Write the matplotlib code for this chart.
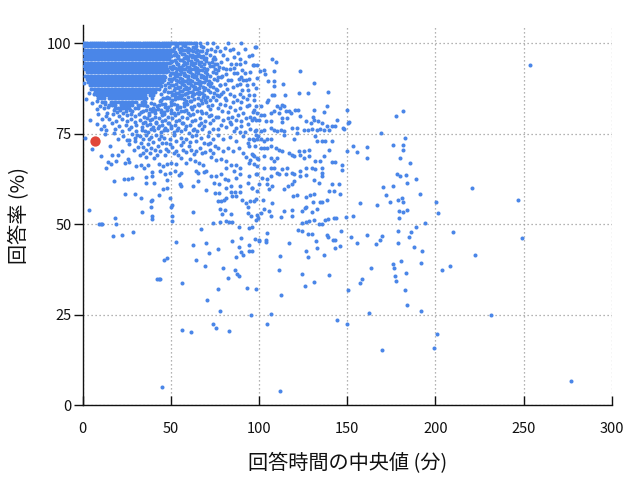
import matplotlib
matplotlib.use("Agg")
import matplotlib.pyplot as plt

plt.rcParams['font.family'] = ['Noto Sans CJK JP', 'DejaVu Sans']

# points sitting on the 100% line
top_row_x = [0.4, 1.6, 2.8, 4.0, 5.2, 6.4, 7.6, 8.8, 10.0, 11.2, 12.4, 13.6, 14.8, 16.0,
             17.2, 18.4, 19.6, 20.8, 22.0, 23.2, 24.4, 25.6, 26.8, 28.0, 29.2, 30.4, 31.6,
             32.8, 34.0, 35.2, 36.4, 37.6, 38.8, 40.0, 41.2, 42.4, 43.6, 44.8, 46.0, 47.2,
             48.4, 49.6, 50.8, 52.0, 53.2, 54.4, 55.6, 56.8, 58.0, 59.2, 60.4, 61.6, 63.0,
             64.5, 66.8, 70.6, 74.2, 82.4, 90.0]

# the solid blob in the top-left corner, read row by row
core_y = [99.1, 98.2, 97.3, 96.4, 95.5, 94.6, 93.7, 92.8, 91.9, 91.0, 90.1, 89.2, 88.3,
          87.4, 86.5, 85.6, 84.7, 83.8, 82.9, 82.0, 81.1]
core_x = [
    [0.8, 2.4, 4.0, 5.6, 7.2, 8.8, 10.4, 12.0, 13.6, 15.2, 16.8, 18.4, 20.0, 21.6, 23.2, 24.8,
     26.4, 28.0, 29.6, 31.2, 32.8, 34.4, 36.0, 37.6, 39.2, 40.8, 42.4, 44.0, 45.6, 47.2, 48.8],
    [1.6, 3.2, 4.8, 6.4, 8.0, 9.6, 11.2, 12.8, 14.4, 16.0, 17.6, 19.2, 20.8, 22.4, 24.0, 25.6,
     27.2, 28.8, 30.4, 32.0, 33.6, 35.2, 36.8, 38.4, 40.0, 41.6, 43.2, 44.8, 46.4, 48.0, 49.6],
    [0.8, 2.4, 4.0, 5.6, 7.2, 8.8, 10.4, 12.0, 13.6, 15.2, 16.8, 18.4, 20.0, 21.6, 23.2, 24.8,
     26.4, 28.0, 29.6, 31.2, 32.8, 34.4, 36.0, 37.6, 39.2, 40.8, 42.4, 44.0, 45.6, 47.2, 48.8],
    [1.6, 3.2, 4.8, 6.4, 8.0, 9.6, 11.2, 12.8, 14.4, 16.0, 17.6, 19.2, 20.8, 22.4, 24.0, 25.6,
     27.2, 28.8, 30.4, 32.0, 33.6, 35.2, 36.8, 38.4, 40.0, 41.6, 43.2, 44.8, 46.4, 48.0, 49.6],
    [0.8, 2.4, 4.0, 5.6, 7.2, 8.8, 10.4, 12.0, 13.6, 15.2, 16.8, 18.4, 20.0, 21.6, 23.2, 24.8,
     26.4, 28.0, 29.6, 31.2, 32.8, 34.4, 36.0, 37.6, 39.2, 40.8, 42.4, 44.0, 45.6, 47.2, 48.8],
    [1.6, 3.2, 4.8, 6.4, 8.0, 9.6, 11.2, 12.8, 14.4, 16.0, 17.6, 19.2, 20.8, 22.4, 24.0, 25.6,
     27.2, 28.8, 30.4, 32.0, 33.6, 35.2, 36.8, 38.4, 40.0, 41.6, 43.2, 44.8, 46.4, 48.0],
    [0.8, 2.4, 4.0, 5.6, 7.2, 8.8, 10.4, 12.0, 13.6, 15.2, 16.8, 18.4, 20.0, 21.6, 23.2, 24.8,
     26.4, 28.0, 29.6, 31.2, 32.8, 34.4, 36.0, 37.6, 39.2, 40.8, 42.4, 44.0, 45.6, 47.2],
    [1.6, 3.2, 4.8, 6.4, 8.0, 9.6, 11.2, 12.8, 14.4, 16.0, 17.6, 19.2, 20.8, 22.4, 24.0, 25.6,
     27.2, 28.8, 30.4, 32.0, 33.6, 35.2, 36.8, 38.4, 40.0, 41.6, 43.2, 44.8, 46.4, 48.0],
    [2.4, 4.0, 5.6, 7.2, 8.8, 10.4, 12.0, 13.6, 15.2, 16.8, 18.4, 20.0, 21.6, 23.2, 24.8,
     26.4, 28.0, 29.6, 31.2, 32.8, 34.4, 36.0, 37.6, 39.2, 40.8, 42.4, 44.0, 45.6, 47.2],
    [1.6, 3.2, 4.8, 6.4, 8.0, 9.6, 11.2, 12.8, 14.4, 16.0, 17.6, 19.2, 20.8, 22.4, 24.0, 25.6,
     27.2, 28.8, 30.4, 32.0, 33.6, 35.2, 36.8, 38.4, 40.0, 41.6, 43.2, 44.8, 46.4],
    [2.4, 4.0, 5.6, 7.2, 8.8, 10.4, 12.0, 13.6, 15.2, 16.8, 18.4, 20.0, 21.6, 23.2, 24.8,
     26.4, 28.0, 29.6, 31.2, 32.8, 34.4, 36.0, 37.6, 39.2, 40.8, 42.4, 44.0, 45.6],
    [3.2, 4.8, 6.4, 8.0, 9.6, 11.2, 12.8, 14.4, 16.0, 17.6, 19.2, 20.8, 22.4, 24.0, 25.6,
     27.2, 28.8, 30.4, 32.0, 33.6, 35.2, 36.8, 38.4, 40.0, 41.6, 43.2, 44.8],
    [4.0, 5.6, 7.2, 8.8, 10.4, 12.0, 13.6, 15.2, 16.8, 18.4, 20.0, 21.6, 23.2, 24.8,
     26.4, 28.0, 29.6, 31.2, 32.8, 34.4, 36.0, 37.6, 39.2, 40.8, 42.4, 44.0],
    [4.8, 6.4, 8.0, 9.6, 11.2, 12.8, 14.4, 16.0, 17.6, 19.2, 20.8, 22.4, 24.0, 25.6,
     27.2, 28.8, 30.4, 32.0, 33.6, 35.2, 36.8, 38.4, 40.0, 41.6, 43.2],
    [7.2, 8.8, 10.4, 12.0, 13.6, 15.2, 16.8, 18.4, 20.0, 21.6, 23.2, 24.8,
     26.4, 28.0, 29.6, 31.2, 32.8, 34.4, 36.0, 37.6, 39.2, 40.8],
    [8.0, 9.6, 11.2, 12.8, 14.4, 16.0, 17.6, 19.2, 20.8, 22.4, 24.0, 25.6,
     27.2, 28.8, 30.4, 32.0, 33.6, 35.2, 38.4, 40.0],
    [8.8, 10.4, 12.0, 15.2, 16.8, 18.4, 20.0, 21.6, 23.2, 24.8,
     26.4, 28.0, 29.6, 31.2, 32.8, 34.4, 36.0, 39.2],
    [11.2, 12.8, 16.0, 17.6, 19.2, 20.8, 22.4, 24.0, 25.6, 27.2, 28.8, 30.4, 33.6, 35.2],
    [15.2, 16.8, 18.4, 21.6, 23.2, 24.8, 26.4, 28.0, 31.2, 32.8, 34.4],
    [18.4, 20.0, 23.2, 24.8, 26.4, 29.6, 31.2],
    [24.8, 28.0],
]

# busy band to the right of the blob (x 40-80, above ~84 %)
band_pts = [
    (51.8, 98.5), (53.6, 99.2), (55.9, 98.7), (58.2, 99.3), (60.4, 98.4), (62.7, 99.0),
    (65.1, 98.2), (68.3, 98.9), (72.6, 98.3), (77.7, 97.8), (50.8, 97.9), (53.0, 97.0),
    (55.2, 97.6), (57.4, 96.9), (59.7, 97.5), (61.9, 96.7), (64.3, 97.4), (66.8, 96.5),
    (70.1, 97.2), (74.3, 96.2), (79.6, 96.6), (52.3, 95.3), (54.1, 96.0), (56.6, 95.2),
    (58.8, 95.9), (61.2, 95.0), (63.5, 95.7), (66.0, 94.8), (68.9, 95.6), (71.8, 94.6),
    (74.9, 95.7), (78.7, 94.8), (49.2, 94.5), (51.5, 93.7), (53.7, 94.3), (55.8, 93.5),
    (58.0, 94.2), (60.3, 93.4), (62.6, 94.0), (65.0, 93.1), (67.4, 93.8), (70.6, 92.8),
    (73.9, 93.6), (76.8, 92.5), (81.5, 92.9), (48.4, 92.2), (50.6, 92.8), (52.9, 92.0),
    (55.0, 92.6), (57.3, 91.8), (59.6, 92.4), (61.9, 91.5), (64.3, 92.1), (66.9, 91.2),
    (69.5, 91.9), (72.5, 91.0), (75.6, 91.6), (79.6, 93.2), (47.0, 90.6), (49.3, 91.2),
    (51.6, 90.4), (53.8, 91.0), (56.1, 90.1), (58.4, 90.8), (60.9, 89.9), (63.4, 90.5),
    (66.1, 89.6), (68.7, 90.3), (71.4, 89.4), (74.5, 90.1), (46.0, 89.8), (48.2, 88.9),
    (50.4, 89.5), (52.7, 88.6), (55.1, 89.3), (57.6, 88.4), (60.0, 89.1), (62.6, 88.2),
    (65.3, 88.9), (68.1, 88.0), (71.0, 88.7), (74.0, 87.8), (77.7, 88.4), (44.6, 88.1),
    (46.9, 87.2), (49.2, 87.8), (51.6, 86.9), (54.0, 87.6), (56.5, 86.7), (59.2, 87.4),
    (62.0, 86.5), (64.8, 87.2), (67.8, 86.3), (70.9, 87.0), (74.4, 86.1), (80.6, 88.6),
    (44.6, 85.8), (47.6, 85.2), (50.8, 85.7), (54.2, 85.1), (57.9, 85.9), (61.8, 85.4),
    (66.2, 85.8), (70.4, 85.2), (44.3, 84.3), (47.4, 84.8), (50.6, 84.2), (53.9, 84.9),
    (57.4, 84.5), (61.1, 84.1), (65.2, 84.8), (69.6, 84.3),
    (51.0, 98.1), (54.6, 98.3), (57.0, 98.0), (61.5, 98.1), (63.9, 98.5), (66.7, 97.9),
    (70.3, 98.0), (74.9, 97.7), (51.9, 96.7), (54.2, 96.4), (56.4, 96.9), (58.4, 96.5),
    (60.8, 96.8), (63.0, 96.3), (65.6, 96.9), (68.5, 96.4), (72.2, 96.8), (50.8, 95.0),
    (53.2, 94.9), (55.4, 95.3), (57.6, 94.7), (60.0, 95.2), (62.4, 94.6), (64.7, 95.3),
    (67.4, 94.9), (70.2, 95.0), (73.1, 94.8), (76.3, 94.2), (50.3, 93.2), (52.6, 93.0),
    (54.6, 93.4), (56.9, 92.9), (59.2, 93.5), (61.5, 92.7), (63.8, 93.3), (66.2, 92.6),
    (68.7, 93.1), (72.0, 93.7), (75.0, 92.9), (51.5, 91.8), (53.7, 91.5), (56.0, 92.0),
    (58.3, 91.3), (60.7, 91.9), (63.1, 91.2), (65.6, 91.8), (68.2, 91.0), (70.8, 91.5),
    (73.8, 92.0), (50.7, 90.1), (52.9, 89.8), (55.2, 90.3), (57.5, 89.6), (59.9, 90.2),
    (62.3, 89.4), (64.8, 90.0), (67.4, 89.3), (70.0, 89.9), (73.0, 89.0), (76.7, 90.5),
    (51.3, 88.3), (53.9, 88.0), (56.4, 88.6), (58.9, 87.9), (61.4, 88.5), (64.0, 87.8),
    (66.6, 88.4), (69.4, 87.6), (72.5, 88.2), (75.8, 87.3), (50.2, 86.5), (52.8, 86.2),
    (55.3, 86.8), (57.9, 86.0), (60.5, 86.6), (63.3, 85.9), (66.0, 86.5), (69.0, 85.7),
    (72.3, 86.4), (76.1, 85.6), (52.5, 85.4), (55.9, 84.7), (59.6, 85.2), (63.4, 84.6),
    (68.1, 85.0), (72.5, 84.4), (77.3, 85.3),
    (49.0, 99.6), (52.8, 99.6), (56.9, 99.5), (59.5, 98.7), (64.1, 99.3), (67.3, 99.3),
    (49.6, 97.0), (52.2, 97.4), (56.0, 98.1), (58.9, 98.0), (62.6, 97.9), (67.9, 97.8),
    (50.0, 96.4), (53.3, 96.3), (57.3, 95.8), (59.9, 96.1), (62.3, 96.1), (64.6, 96.5),
    (67.4, 96.1), (70.0, 96.0), (49.9, 94.7), (54.3, 94.2), (56.7, 93.9), (59.2, 94.6),
    (61.6, 94.2), (63.9, 94.5), (66.2, 94.1), (68.9, 94.3), (49.3, 93.5), (53.6, 92.8),
    (58.1, 92.9), (60.6, 93.0), (62.9, 92.7), (65.0, 92.4), (67.6, 92.5), (70.1, 92.2),
    (50.1, 91.6), (52.6, 91.3), (55.0, 91.4), (57.4, 91.1), (59.6, 91.0), (62.1, 90.8),
    (64.4, 91.0), (67.4, 90.6), (70.0, 90.6), (49.0, 90.0), (54.0, 89.5), (56.3, 89.3),
    (58.7, 89.5), (61.1, 89.3), (63.6, 89.1), (66.3, 88.9), (69.0, 89.2), (47.0, 88.5),
    (50.0, 88.4), (52.5, 87.6), (55.0, 87.9), (57.7, 87.3), (60.3, 87.7), (63.0, 87.2),
    (65.8, 87.7), (68.7, 87.1), (46.0, 86.8), (48.6, 86.5), (51.5, 85.9), (53.9, 86.3),
    (56.6, 85.6), (59.3, 86.2), (61.8, 86.6), (64.7, 86.1), (45.8, 84.9), (49.0, 84.9),
    (52.2, 84.6), (55.4, 85.6), (58.4, 84.0), (62.5, 85.9), (66.9, 84.2),
]

# middle of the cloud (x 0-100, 63-84 %)
middle_pts = [
    (0.6, 88.9), (3.4, 86.2), (5.3, 83.4), (8.0, 84.1), (10.0, 82.6), (13.0, 83.1),
    (8.1, 81.7), (12.0, 82.2), (2.0, 84.6), (6.5, 85.8), (14.5, 82.4), (21.9, 82.3),
    (27.0, 81.6), (34.8, 84.1), (40.5, 83.1), (43.7, 83.9), (46.9, 83.3),
    (50.2, 83.8), (53.7, 83.0), (57.3, 83.5), (61.2, 83.9), (65.4, 83.2), (70.1, 83.7),
    (36.7, 82.7), (39.9, 82.2), (43.2, 82.9), (46.5, 82.4), (50.0, 82.8), (53.7, 82.1),
    (57.5, 82.6), (61.6, 82.3), (66.0, 82.9), (71.0, 82.5), (36.0, 81.6), (39.4, 81.2),
    (42.8, 81.8), (46.3, 81.0), (49.9, 81.5), (53.7, 81.9), (57.7, 81.1), (62.0, 81.7),
    (67.0, 81.3), (72.5, 81.8), (14.0, 80.8), (17.6, 81.4), (19.5, 80.9), (21.0, 81.5),
    (34.3, 81.3), (37.5, 80.8), (40.9, 81.5), (44.4, 80.9), (48.0, 81.4), (51.8, 80.7),
    (55.8, 81.2), (60.0, 80.6), (64.6, 81.3), (69.7, 80.8), (9.0, 80.5), (13.5, 79.9),
    (17.0, 80.4), (20.5, 79.8), (22.8, 80.6), (25.0, 80.0), (27.4, 80.5), (29.7, 79.8),
    (32.0, 80.3), (34.6, 79.6), (37.9, 80.1), (41.3, 79.5), (44.8, 80.2), (48.5, 79.6),
    (52.4, 80.1), (56.5, 79.5), (61.0, 80.0), (66.5, 79.4), (72.8, 80.2), (4.0, 78.8),
    (11.0, 78.9), (15.2, 79.0), (19.0, 78.5), (22.4, 79.1), (25.2, 78.4), (27.6, 78.9),
    (30.0, 78.3), (32.5, 78.8), (35.2, 78.2), (38.4, 78.7), (41.8, 78.1), (45.3, 78.6),
    (49.0, 78.0), (53.0, 78.5), (57.2, 78.0), (61.8, 78.6), (67.1, 77.9), (8.0, 77.6),
    (12.4, 77.2), (16.8, 77.8), (20.6, 77.0), (24.5, 77.5), (27.2, 76.9), (30.4, 77.4),
    (33.6, 76.8), (36.6, 77.3), (39.8, 76.7), (43.1, 77.2), (46.6, 76.6), (50.3, 77.1),
    (54.3, 76.5), (58.6, 77.0), (63.2, 76.4), (68.7, 77.0), (10.6, 76.4), (13.5, 75.9),
    (18.2, 76.3), (22.6, 75.7), (26.4, 76.2), (30.2, 75.6), (33.8, 76.1), (37.2, 75.5),
    (40.7, 76.0), (44.3, 75.4), (48.0, 75.9), (51.8, 75.3), (55.9, 75.8), (60.3, 75.2),
    (65.0, 75.8), (71.4, 75.3), (12.5, 74.8), (18.0, 75.2), (23.2, 74.4), (28.0, 74.9),
    (32.5, 74.3), (20.1, 73.6), (25.3, 73.2), (30.0, 73.9), (1.2, 73.8), (5.3, 70.7),
    (10.6, 68.7), (13.4, 65.6), (14.4, 67.2), (16.3, 66.7), (16.6, 69.2), (15.3, 71.5),
    (19.1, 67.4), (20.1, 69.2), (22.5, 70.1), (23.8, 66.9), (25.7, 67.9), (26.6, 67.2),
    (26.2, 72.0), (26.3, 73.1), (28.9, 70.6), (29.5, 72.9), (30.4, 66.0), (33.3, 66.3),
    (34.8, 65.6), (37.1, 66.3), (32.3, 69.0), (34.2, 69.7), (36.1, 68.5), (38.4, 69.7),
    (40.3, 68.3), (42.2, 69.2), (31.4, 71.2), (34.2, 71.2), (37.1, 72.2), (38.9, 71.1),
    (42.7, 71.5), (45.2, 72.4), (34.2, 73.4), (36.1, 74.7), (38.9, 74.0), (41.8, 74.7),
    (44.6, 74.3), (43.3, 66.7), (45.6, 66.0), (47.8, 66.7), (50.3, 66.9), (53.1, 66.5),
    (46.5, 69.0), (48.4, 70.1), (51.6, 69.7), (54.1, 69.0), (47.1, 72.4), (49.7, 72.0),
    (53.1, 72.9), (55.9, 71.8), (55.9, 68.3), (58.4, 66.9), (60.7, 67.9), (63.5, 67.4),
    (66.0, 66.9), (68.2, 66.3), (58.8, 70.0), (61.6, 70.6), (64.5, 70.1), (66.3, 71.1),
    (69.2, 70.0), (72.0, 70.6), (73.9, 69.7), (58.8, 73.6), (62.2, 74.3), (64.5, 72.9),
    (67.3, 73.8), (71.1, 74.3), (73.9, 73.4), (76.8, 74.7), (73.0, 68.5), (75.8, 67.6),
    (78.6, 68.1), (81.5, 67.4), (84.3, 66.3), (81.5, 65.6), (87.1, 66.3), (89.0, 65.6),
    (76.8, 70.9), (79.6, 70.1), (82.4, 71.1), (85.3, 70.1), (88.7, 71.1), (90.9, 69.7),
    (92.8, 68.5), (94.7, 67.6), (96.6, 69.2), (99.4, 68.1), (79.6, 73.4), (83.4, 74.0),
    (87.1, 72.9), (90.9, 74.3), (93.8, 72.4), (96.6, 73.4), (99.4, 74.3),
    (44.1, 64.7), (46.5, 63.7), (49.3, 64.2), (52.2, 64.7), (54.6, 63.6), (55.9, 64.0),
    (39.5, 63.3), (39.5, 64.5), (36.1, 63.0), (64.5, 64.8), (65.4, 64.2), (68.6, 64.5),
    (70.1, 64.7), (72.9, 63.3), (75.8, 63.3), (78.6, 63.7), (85.6, 64.7), (89.0, 63.7),
    (98.5, 63.7),
    (35.3, 83.0), (38.8, 83.4), (42.1, 82.5), (45.3, 83.1), (48.6, 82.3), (52.0, 83.3),
    (55.5, 82.4), (59.4, 83.1), (63.3, 82.5), (67.8, 83.4), (73.3, 82.9), (33.1, 81.0),
    (38.0, 81.9), (41.1, 80.6), (44.6, 81.6), (46.1, 80.3), (50.1, 80.6), (54.3, 80.8),
    (58.6, 81.6), (62.7, 80.4), (67.9, 80.8), (71.6, 79.8), (36.4, 79.3), (39.6, 79.0),
    (43.2, 79.4), (46.9, 78.8), (50.7, 79.3), (54.8, 78.8), (59.0, 79.2), (63.6, 78.7),
    (69.3, 78.6), (75.4, 79.5), (34.2, 77.8), (38.0, 77.6), (41.5, 77.9), (44.8, 77.5),
    (48.4, 78.0), (52.2, 77.5), (56.4, 77.9), (60.9, 77.5), (65.9, 77.4), (72.0, 77.8),
    (35.5, 75.8), (39.0, 76.4), (42.5, 76.6), (46.3, 76.0), (50.0, 76.5), (53.8, 76.1),
    (58.1, 76.3), (62.8, 75.9), (67.8, 76.3), (74.2, 76.4), (37.4, 73.6), (40.2, 72.8),
    (43.1, 73.5), (46.1, 73.9), (49.3, 73.4), (52.0, 74.5), (55.6, 73.8), (57.2, 72.7),
    (61.0, 72.6), (64.2, 74.6), (68.8, 72.3), (72.4, 72.3), (33.0, 72.4), (30.6, 74.6),
    (35.8, 70.4), (40.8, 70.6), (44.0, 70.1), (47.2, 70.8), (50.6, 71.2), (53.0, 70.3),
    (56.8, 70.4), (60.3, 71.7), (63.0, 69.3), (67.8, 69.6), (71.0, 72.0), (75.2, 71.6),
]

# x 73-150, above 63 %
upper_right_pts = [
    (85.3, 98.4), (83.8, 98.2), (97.6, 98.9), (94.4, 96.3), (89.1, 95.7), (89.4, 94.3),
    (84.3, 94.3), (87.2, 94.1), (73.9, 95.7), (74.9, 94.3), (83.4, 92.9), (87.5, 91.8),
    (90.0, 90.7), (91.9, 91.6), (96.6, 93.9), (91.0, 89.9), (92.5, 89.9), (85.7, 91.6),
    (82.4, 89.7), (84.3, 89.9), (77.7, 88.4), (89.1, 88.8), (87.5, 88.4), (96.6, 88.8),
    (79.6, 86.5), (83.8, 85.9), (89.1, 85.9), (91.0, 85.2), (87.5, 84.2), (85.3, 83.8),
    (83.4, 82.4), (80.6, 82.9), (89.1, 82.0), (91.0, 80.6), (93.2, 82.6), (84.9, 79.7),
    (87.2, 78.8), (82.4, 79.2), (96.6, 81.0), (95.1, 79.7), (98.5, 78.8), (73.9, 85.2),
    (75.8, 84.2), (77.7, 83.3), (76.8, 82.0), (73.9, 78.8), (76.8, 79.7), (78.7, 77.4),
    (81.5, 76.9), (84.3, 77.7), (87.2, 76.5), (90.0, 77.1), (91.9, 75.5), (94.7, 76.4),
    (97.6, 75.8), (98.5, 74.6), (79.0, 91.0), (93.5, 87.0), (76.0, 89.8), (80.5, 84.8),
    (76.2, 99.0), (80.5, 98.6), (88.0, 97.2), (92.3, 98.4), (81.7, 95.6), (86.0, 96.2),
    (91.8, 94.7), (77.4, 93.4), (85.9, 93.1), (90.4, 92.6), (94.9, 92.0), (78.6, 90.7),
    (81.2, 91.4), (88.6, 90.2), (93.2, 88.4), (76.0, 87.0), (82.0, 87.3), (85.3, 88.0),
    (90.6, 87.0), (94.6, 85.6), (78.2, 85.8), (86.1, 85.5), (81.5, 84.3), (89.8, 83.8),
    (93.0, 84.5), (78.9, 81.2), (82.6, 81.0), (86.5, 81.6), (88.0, 80.0), (92.8, 79.3),
    (79.8, 78.7), (83.4, 78.1), (90.0, 78.6), (93.8, 77.6), (77.0, 76.2), (86.0, 75.8),
    (89.2, 75.4),
    (98.3, 98.9), (95.8, 96.7), (97.2, 94.0), (98.7, 94.0), (107.3, 95.6), (109.6, 94.8),
    (100.6, 92.3), (102.8, 92.6), (103.6, 91.5), (108.5, 92.3), (123.5, 92.3), (94.6, 90.1),
    (98.7, 90.4), (105.1, 89.6), (108.5, 89.6), (108.5, 88.2), (113.6, 88.7), (131.1, 89.0),
    (98.1, 87.6), (97.2, 85.7), (107.3, 85.7), (108.5, 85.7), (114.7, 85.7), (122.6, 86.3),
    (127.7, 86.3), (139.0, 86.5), (97.2, 84.3), (94.2, 83.0), (98.1, 82.5), (101.1, 82.6),
    (104.3, 83.7), (105.1, 84.2), (110.4, 82.6), (111.9, 82.1), (113.2, 83.0), (114.1, 82.6),
    (115.4, 81.3), (116.9, 81.3), (122.0, 81.6), (123.5, 79.9), (131.1, 81.6), (138.4, 82.7),
    (136.7, 81.0), (97.2, 81.6), (99.1, 80.7), (100.9, 80.2), (102.8, 80.2), (106.6, 80.7),
    (108.5, 81.1), (111.3, 80.7), (113.2, 79.3), (116.0, 79.3), (113.3, 78.3), (118.4, 80.8),
    (120.2, 81.5), (130.6, 79.7), (126.9, 78.5), (129.7, 78.0), (135.5, 78.0), (138.6, 77.1),
    (141.6, 77.1), (96.0, 78.8), (97.2, 79.3), (100.0, 78.8), (103.8, 78.4), (106.6, 78.4),
    (131.1, 78.7), (133.3, 78.4), (144.1, 78.8), (143.3, 77.2), (148.0, 76.4), (98.1, 76.1),
    (100.9, 75.6), (102.8, 76.1), (106.6, 76.6), (108.5, 76.1), (110.4, 75.6), (112.2, 76.1),
    (114.1, 75.6), (118.8, 76.6), (121.7, 76.6), (125.4, 76.1), (127.7, 76.1), (130.1, 76.4),
    (133.0, 75.9), (134.8, 76.4), (137.1, 76.1), (139.5, 76.1), (94.5, 73.4), (97.2, 73.1),
    (99.1, 73.4), (100.9, 73.4), (102.8, 72.9), (104.7, 73.4), (106.6, 73.4), (114.1, 74.7),
    (119.8, 73.4), (121.7, 75.2), (132.0, 74.3), (133.0, 72.9), (135.8, 72.9), (137.7, 72.9),
    (141.4, 72.9), (94.6, 71.5), (97.6, 71.5), (100.9, 71.1), (102.8, 71.1), (104.7, 71.1),
    (106.6, 71.5), (109.4, 71.1), (111.3, 70.6), (113.2, 70.1), (116.9, 69.7), (118.8, 69.2),
    (119.8, 68.8), (122.6, 70.1), (125.4, 70.1), (128.2, 70.6), (139.5, 70.6), (95.9, 69.4),
    (97.2, 68.8), (99.1, 68.3), (102.8, 68.8), (106.6, 68.3), (108.5, 67.4), (110.4, 68.3),
    (123.5, 69.2), (125.4, 68.3), (128.2, 68.8), (132.0, 67.4), (134.8, 67.4), (136.7, 68.8),
    (141.4, 67.1), (143.3, 67.1), (147.1, 66.2), (147.1, 64.9), (94.4, 66.9), (97.2, 66.5),
    (99.1, 66.0), (102.8, 65.6), (106.6, 65.6), (108.5, 65.6), (110.4, 64.2), (113.2, 65.1),
    (116.0, 65.6), (118.8, 64.2), (119.8, 63.7), (123.5, 64.7), (126.4, 65.6), (130.1, 65.6),
    (132.0, 65.1), (135.8, 65.6), (135.8, 64.2),
]

# sparser points below ~63 % (x < 150)
lower_pts = [
    (17.8, 61.8), (23.4, 62.4), (25.7, 62.4), (28.0, 62.6), (36.1, 61.4), (40.6, 61.4),
    (47.8, 62.3), (55.0, 61.0), (55.6, 60.5), (62.6, 60.5), (65.6, 61.8), (74.5, 61.4),
    (77.3, 61.0), (80.5, 62.4), (82.4, 62.1), (87.1, 62.8), (93.8, 61.4), (96.3, 60.1),
    (81.5, 60.1), (84.3, 60.4), (89.0, 60.5), (45.6, 59.6), (47.8, 59.9), (70.1, 59.4),
    (74.9, 58.7), (77.1, 58.7), (84.3, 58.8), (86.4, 59.0), (89.2, 58.9), (24.0, 58.2),
    (29.5, 58.4), (43.3, 58.1), (33.1, 57.1), (49.3, 57.1), (81.5, 57.3), (84.5, 57.8),
    (86.8, 57.8), (38.6, 56.3), (39.5, 56.6), (76.7, 56.4), (78.6, 56.4), (79.9, 56.6),
    (90.2, 56.7), (97.4, 56.4), (50.8, 55.3), (50.1, 54.8), (38.8, 54.6), (93.8, 54.8),
    (78.1, 54.1), (80.9, 53.8), (3.4, 53.8), (33.5, 53.3), (62.5, 53.3), (93.6, 53.2),
    (78.8, 52.7), (84.1, 52.7), (50.6, 52.3), (95.7, 52.3), (39.4, 52.1), (39.4, 51.4),
    (18.6, 51.6), (98.1, 51.2), (50.5, 50.9), (84.9, 50.7), (73.7, 50.3), (77.7, 50.5),
    (81.1, 50.8), (82.8, 50.5), (9.3, 50.0), (10.4, 50.0), (11.2, 50.0), (19.1, 50.0),
    (88.7, 49.3), (94.3, 49.0), (96.0, 49.1), (67.4, 48.6), (28.4, 47.8), (22.2, 47.0),
    (17.0, 46.7), (90.0, 46.2), (97.5, 45.9), (100.0, 45.6), (52.8, 45.1), (69.9, 44.9),
    (84.7, 45.3), (62.5, 44.2), (94.3, 44.1), (76.9, 43.1), (88.4, 43.6), (90.0, 42.2),
    (96.2, 42.5), (94.6, 42.5), (71.6, 42.0), (90.7, 41.6), (86.7, 40.8), (46.0, 40.1),
    (47.9, 40.6), (64.2, 40.1), (69.5, 38.5), (79.5, 37.9), (86.4, 37.4), (87.7, 36.3),
    (88.8, 35.8), (82.4, 35.1), (42.2, 34.7), (43.3, 34.7), (44.1, 34.9), (56.6, 33.8),
    (93.4, 32.4), (76.9, 32.1), (98.1, 32.1), (70.6, 29.1), (77.7, 26.1), (95.6, 24.8),
    (73.9, 22.5), (75.8, 21.4), (56.2, 20.7), (61.4, 20.1), (82.8, 20.6), (45.3, 4.9),
    (104.4, 22.3), (106.6, 25.3), (111.9, 3.8), (112.3, 30.3), (111.4, 37.2), (111.9, 41.3),
    (104.2, 45.6), (104.2, 45.1), (104.7, 47.5), (117.0, 44.8), (122.3, 48.4), (124.2, 48.0),
    (124.2, 36.1), (125.9, 33.0), (130.9, 33.9), (126.9, 42.5), (127.5, 41.0), (127.8, 47.4),
    (130.3, 47.4), (132.2, 45.4), (132.6, 43.3), (139.9, 36.0), (137.1, 41.5), (138.6, 47.0),
    (139.2, 46.5), (143.1, 43.4), (143.3, 45.6), (146.1, 44.0), (146.3, 48.1), (142.0, 45.7),
    (100.0, 45.4), (94.9, 56.4), (98.1, 56.8), (102.3, 56.7), (107.3, 55.7), (114.1, 53.7),
    (118.6, 53.8), (124.1, 53.7), (126.0, 54.4), (130.1, 53.3), (99.1, 52.5), (100.9, 53.2),
    (102.8, 54.1), (105.6, 53.7), (99.4, 51.8), (121.7, 58.0), (119.4, 57.8), (126.4, 57.6),
    (128.8, 58.1), (131.4, 58.2), (130.7, 56.0), (134.8, 56.0), (138.4, 56.7), (135.8, 56.1),
    (139.9, 59.2), (142.4, 59.2), (145.4, 61.0), (146.1, 58.2), (124.3, 50.4), (126.4, 50.5),
    (128.2, 50.8), (131.1, 51.1), (133.9, 50.1), (135.8, 49.9), (137.7, 51.2), (139.2, 51.3),
    (142.4, 51.8), (143.9, 51.8), (95.9, 60.1), (100.0, 61.0), (104.7, 61.0), (107.5, 60.5),
    (114.1, 59.6), (116.4, 60.5), (118.8, 61.0), (119.8, 61.9), (131.1, 62.1), (133.9, 61.3),
    (99.1, 59.2), (105.6, 59.6), (94.3, 63.3), (99.1, 63.7), (101.9, 62.8), (104.7, 62.4),
    (106.6, 63.3), (111.3, 63.7), (115.1, 63.7), (123.5, 63.3), (126.4, 63.6), (135.8, 63.3),
    (141.4, 61.0), (112.3, 52.0), (106.6, 52.3), (118.9, 52.3), (126.5, 54.6), (132.8, 54.1),
    (92.8, 55.7),
]

# right-hand tail (x >= 145)
right_pts = [
    (253.5, 93.9), (277.0, 6.8), (220.8, 60.0), (246.9, 56.7), (248.8, 46.2), (231.6, 25.0),
    (222.5, 41.5), (210.0, 47.8), (208.3, 38.5), (203.8, 37.4), (200.4, 56.1), (201.7, 53.1),
    (200.8, 19.7), (199.2, 15.9), (194.2, 50.3), (191.1, 58.3), (188.9, 62.4), (185.6, 66.8),
    (189.0, 49.2), (186.2, 47.8), (185.0, 46.5), (187.9, 43.7), (192.6, 42.6), (191.9, 39.3),
    (191.7, 26.1), (183.9, 27.7), (182.8, 31.9), (183.4, 36.6), (180.7, 39.9), (177.7, 34.4),
    (177.1, 35.7), (176.4, 37.9), (175.8, 39.0), (178.8, 44.8), (178.6, 48.1), (179.4, 51.7),
    (179.6, 53.6), (181.6, 53.3), (183.7, 53.9), (181.5, 56.1), (181.1, 57.2), (178.8, 56.7),
    (174.3, 56.1), (176.0, 60.5), (172.0, 58.0), (170.3, 60.2), (166.9, 55.3), (183.9, 61.3),
    (183.3, 63.6), (179.8, 63.3), (178.3, 63.8), (180.0, 68.2), (181.6, 71.8), (181.5, 70.6),
    (176.0, 71.8), (182.8, 73.7), (169.3, 75.1), (177.7, 79.8), (181.6, 81.3), (161.2, 71.2),
    (161.1, 68.2), (155.6, 69.9), (153.3, 71.5), (149.9, 70.2), (150.9, 78.2), (149.9, 81.5),
    (157.3, 55.8), (153.3, 52.2), (149.3, 52.0), (152.3, 46.5), (155.6, 44.8), (161.2, 47.0),
    (166.3, 44.5), (168.4, 45.6), (169.8, 46.7), (163.5, 37.9), (158.2, 34.9), (157.3, 33.8),
    (150.3, 31.9), (162.4, 25.4), (149.9, 22.5), (144.2, 23.6), (169.8, 15.3), (150.5, 78.0),
    (147.6, 76.5),
]

# highlighted item
highlight_x = [6.8]
highlight_y = [72.9]

xs = list(top_row_x)
ys = [100.0] * len(top_row_x)
for row_y, row_x in zip(core_y, core_x):
    xs += row_x
    ys += [row_y] * len(row_x)
for px, py in band_pts + middle_pts + upper_right_pts + lower_pts + right_pts:
    xs.append(px)
    ys.append(py)

fig = plt.figure(figsize=(6.4, 4.8), dpi=100)
ax = fig.add_axes([0.129, 0.156, 0.827, 0.792])

ax.scatter(xs, ys, s=8.5, c='#4a86e8', linewidths=0, zorder=3)
ax.scatter(highlight_x, highlight_y, s=55, c='#e0463a', linewidths=0, zorder=4)

ax.set_xlim(0, 300)
ax.set_ylim(0, 105)
ax.set_xticks([0, 50, 100, 150, 200, 250, 300])
ax.set_yticks([0, 25, 50, 75, 100])
ax.grid(True, color='#9a9a9a', linestyle=(0, (1, 2.2)), linewidth=0.9, zorder=1)

for side in ['top', 'right']:
    ax.spines[side].set_visible(False)
for side in ['left', 'bottom']:
    ax.spines[side].set_linewidth(1.0)
    ax.spines[side].set_color('#111111')

ax.tick_params(axis='x', direction='in', length=6.5, width=1.0, pad=12,
               labelsize=10.5, colors='#111111')
ax.tick_params(axis='y', direction='out', length=6.5, width=1.0, pad=1.5,
               labelsize=10.5, colors='#111111')

ax.set_xlabel('回答時間の中央値 (分)', fontsize=14.5, color='#111111')
ax.set_ylabel('回答率 (%)', fontsize=14.5, color='#111111')
ax.xaxis.set_label_coords(0.5, -0.153)
ax.xaxis.label.set_va('center')
ax.yaxis.set_label_coords(-0.119, 0.5)
ax.yaxis.label.set_va('center')

fig.savefig('out.png', dpi=100)
